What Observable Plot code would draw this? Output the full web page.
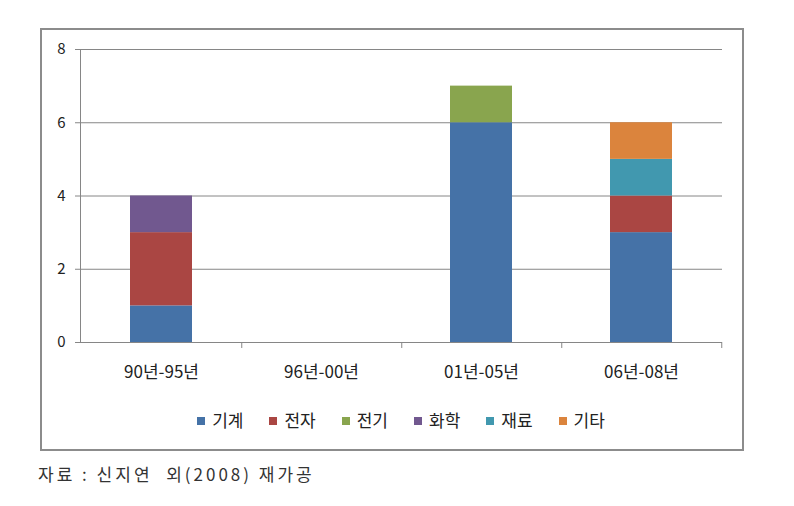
<!DOCTYPE html>
<html>
<head>
<meta charset="utf-8">
<script src="https://cdn.jsdelivr.net/npm/d3@7"></script>
<script src="https://cdn.jsdelivr.net/npm/@observablehq/plot@0.6"></script>
<style>
  body { margin: 0; background: #fff; font-family: "Noto Sans CJK KR", "Noto Sans", sans-serif; }
  #wrap { position: relative; width: 794px; height: 506px; background: #fff; }
  #border { position: absolute; left: 40px; top: 28px; width: 700px; height: 419px; border: 2px solid #8c8c8c; pointer-events: none; }
  #legend { position: absolute; left: 80px; top: 407px; width: 642px; text-align: center; font-size: 17px; color: #222; line-height: 26px; }
  #legend span.item { margin: 0 13px; white-space: nowrap; }
  #legend span.sw { display: inline-block; width: 8px; height: 8px; margin-right: 7px; vertical-align: 2px; }
  #caption { position: absolute; left: 38px; top: 461px; font-size: 17px; color: #333; letter-spacing: 3px; white-space: pre; }
  #chart { position: absolute; left: 0; top: 0; }
</style>
</head>
<body>
<div id="wrap">
  <div id="chart"></div>
  <div id="legend"></div>
  <div id="caption">자료 : 신지연  외(2008) 재가공</div>
  <div id="border"></div>
</div>
<script>
const categories = ["90년-95년", "96년-00년", "01년-05년", "06년-08년"];
const seriesNames = ["기계", "전자", "전기", "화학", "재료", "기타"];
const seriesColors = ["#4572A7", "#AA4643", "#89A54E", "#71588F", "#4198AF", "#DB843D"];
const machine   = [1, 0, 6, 3];  // 기계
const electronic = [2, 0, 0, 1]; // 전자
const electric  = [0, 0, 1, 0];  // 전기
const chemical  = [1, 0, 0, 0];  // 화학
const material  = [0, 0, 0, 1];  // 재료
const other     = [0, 0, 0, 1];  // 기타
const yTicks = [0, 2, 4, 6, 8];

const seriesValues = [machine, electronic, electric, chemical, material, other];
const rows = [];
seriesNames.forEach((s, si) => {
  categories.forEach((c, ci) => {
    const v = seriesValues[si][ci];
    if (v > 0) rows.push({category: c, series: s, value: v});
  });
});

const width = 794, height = 395;
const mL = 80, mR = 72;
const step = (width - mL - mR) / categories.length;

const chart = Plot.plot({
  width, height,
  marginLeft: mL, marginRight: mR, marginTop: 49, marginBottom: 53,
  style: {fontFamily: '"Noto Sans CJK KR", "Noto Sans", sans-serif', fontSize: "14px", color: "#222", background: "#fff"},
  x: {domain: categories, paddingInner: 0.61, paddingOuter: 0.305, label: null},
  y: {domain: [0, 8], label: null},
  color: {domain: seriesNames, range: seriesColors},
  marks: [
    Plot.ruleY([2, 4, 6, 8], {stroke: "#868686", strokeWidth: 1}),
    Plot.barY(rows, Plot.stackY({x: "category", y: "value", fill: "series", order: seriesNames})),
    Plot.ruleY([0], {stroke: "#868686", strokeWidth: 1}),
    Plot.frame({anchor: "left", stroke: "#868686", strokeOpacity: 1}),
    Plot.ruleX(categories, {x: d => d, dx: step / 2, y1: () => 0, y2: () => 0, insetBottom: -6, stroke: "#868686"}),
    Plot.axisY({ticks: yTicks, tickSize: 5, tickPadding: 10, stroke: "#868686", fontSize: 15, fill: "#222", label: null}),
    Plot.axisX({tickSize: 0, tickPadding: 23, fontSize: 17, fill: "#222", label: null})
  ]
});
document.getElementById("chart").appendChild(chart);

const legend = document.getElementById("legend");
seriesNames.forEach((s, i) => {
  const item = document.createElement("span");
  item.className = "item";
  const sw = document.createElement("span");
  sw.className = "sw";
  sw.style.background = seriesColors[i];
  item.appendChild(sw);
  item.appendChild(document.createTextNode(s));
  legend.appendChild(item);
});
</script>
</body>
</html>
